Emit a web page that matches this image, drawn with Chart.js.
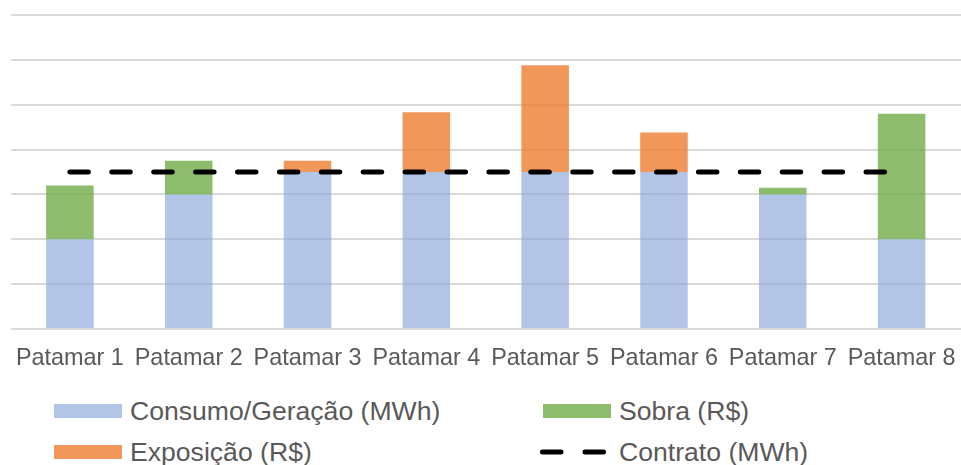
<!DOCTYPE html>
<html>
<head>
<meta charset="utf-8">
<script src="https://cdn.jsdelivr.net/npm/chart.js@4.4.1/dist/chart.umd.min.js"></script>
<style>
  body { margin: 0; background: #fff; }
  #wrap { position: relative; width: 961px; height: 465px; }
  #chartBox { position: absolute; left: 0; top: 0; width: 961px; height: 385px; }
  .item { position: absolute; font-family: "Liberation Sans", Arial, sans-serif; font-size: 26.6px; color: #595959; white-space: nowrap; line-height: 30px; }
  .item .mark { position: absolute; left: 0; }
  .item span.txt { position: absolute; left: 76px; top: 0; }
</style>
</head>
<body>
<div id="wrap">
  <div id="chartBox"><canvas id="myChart"></canvas></div>
  <div id="legend"></div>
</div>
<script>
const categories = ['Patamar 1', 'Patamar 2', 'Patamar 3', 'Patamar 4', 'Patamar 5', 'Patamar 6', 'Patamar 7', 'Patamar 8'];
const consumo = [2, 3, 3.5, 3.5, 3.5, 3.5, 3, 2];
const sobra = [1.2, 0.75, 0, 0, 0, 0, 0.15, 2.8];
const exposicao = [0, 0, 0.25, 1.33, 2.38, 0.88, 0, 0];
const contrato = [3.5, 3.5, 3.5, 3.5, 3.5, 3.5, 3.5, 3.5];

const blue = 'rgba(143, 170, 220, 0.68)';
const green = 'rgba(112, 173, 71, 0.8)';
const orange = 'rgba(237, 125, 49, 0.8)';

const ctx = document.getElementById('myChart');
const chart = new Chart(ctx, {
    type: 'bar',
    data: {
        labels: categories,
        datasets: [{
            label: 'Consumo/Geração (MWh)',
            data: consumo,
            backgroundColor: blue,
            stack: 'barras',
            order: 1
        }, {
            label: 'Sobra (R$)',
            data: sobra,
            backgroundColor: green,
            stack: 'barras',
            order: 1
        }, {
            label: 'Exposição (R$)',
            data: exposicao,
            backgroundColor: orange,
            stack: 'barras',
            order: 1
        }, {
            type: 'line',
            label: 'Contrato (MWh)',
            data: contrato,
            borderColor: '#000',
            borderWidth: 5,
            borderDash: [18.5, 23.4],
            borderCapStyle: 'round',
            pointRadius: 0,
            fill: false,
            stack: 'contrato',
            order: 0
        }]
    },
    options: {
        responsive: true,
        maintainAspectRatio: false,
        animation: false,
        barPercentage: 0.4,
        categoryPercentage: 1,
        layout: { padding: { left: 10.5, right: 0, top: 15, bottom: 12 } },
        plugins: {
            legend: { display: false },
            tooltip: { enabled: false }
        },
        scales: {
            x: {
                stacked: true,
                grid: { display: true, drawOnChartArea: false, drawTicks: true, tickLength: 16, color: 'rgba(0,0,0,0)' },
                border: { display: false },
                ticks: {
                    color: '#595959',
                    padding: 0,
                    maxRotation: 0,
                    autoSkip: false,
                    font: { family: 'Liberation Sans, Arial, sans-serif', size: 23.4 }
                }
            },
            y: {
                stacked: true,
                min: 0,
                max: 7,
                border: { display: false },
                grid: { color: '#d9d9d9', lineWidth: 2, drawTicks: false },
                ticks: { display: false, stepSize: 1 }
            }
        }
    }
});

// legend built from the chart datasets
const legendPos = [
    { left: 54, top: 396 },
    { left: 543, top: 396 },
    { left: 54, top: 437 },
    { left: 543, top: 437 }
];
const legendEl = document.getElementById('legend');
chart.data.datasets.forEach(function (ds, i) {
    const item = document.createElement('div');
    item.className = 'item';
    item.style.left = legendPos[i].left + 'px';
    item.style.top = legendPos[i].top + 'px';
    item.style.width = '400px';
    item.style.height = '30px';
    let mark;
    if (ds.type === 'line') {
        mark = '<svg class="mark" style="top:7px;left:-3px" width="70" height="16">' +
            '<line x1="2.5" y1="8" x2="68" y2="8" stroke="#000" stroke-width="5" stroke-linecap="round" stroke-dasharray="18.5 24"/></svg>';
    } else {
        mark = '<div class="mark" style="top:8px;width:68px;height:14px;background:' + ds.backgroundColor + '"></div>';
    }
    item.innerHTML = mark + '<span class="txt">' + ds.label + '</span>';
    legendEl.appendChild(item);
});
</script>
</body>
</html>
